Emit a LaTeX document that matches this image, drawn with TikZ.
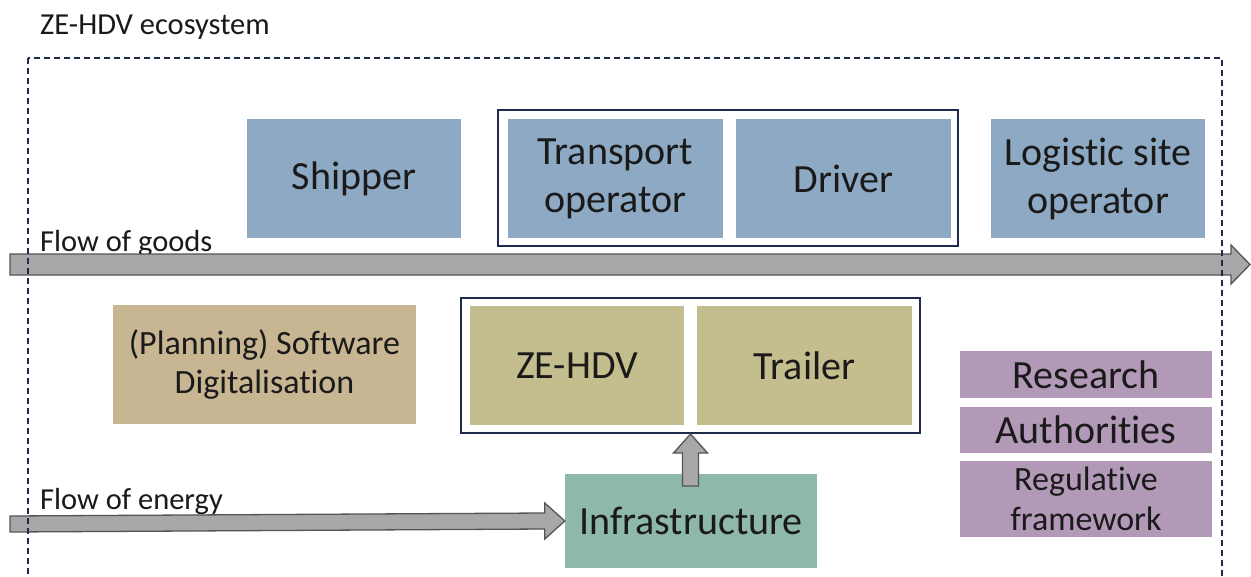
\documentclass[tikz,border=0pt]{standalone}
\usepackage{fontspec}
\setmainfont{Carlito}[Ligatures=NoCommon, Contextuals=NoAlternate]
\usetikzlibrary{calc}

\definecolor{actorblue}{HTML}{8EA9C4}
\definecolor{techolive}{HTML}{C4BE8E}
\definecolor{softtan}{HTML}{C8B693}
\definecolor{infrateal}{HTML}{8DB8AB}
\definecolor{policymauve}{HTML}{B399B8}
\definecolor{framenavy}{HTML}{1F2A4D}
\definecolor{arrowfill}{HTML}{A8A8A8}
\definecolor{arrowedge}{HTML}{555555}
\definecolor{inktext}{HTML}{1A1A1A}

\tikzset{
  block/.style={rectangle, inner sep=0pt, align=center, text=inktext, font=\fontsize{40}{48}\selectfont},
  actor/.style={block, fill=actorblue},
  tech/.style={block, fill=techolive},
  policy/.style={block, fill=policymauve, minimum width=252pt},
  smalltext/.style={font=\fontsize{34}{39.5}\selectfont},
  group/.style={draw=framenavy, line width=1.5pt, fill=white},
  flowarrow/.style={fill=arrowfill, draw=arrowedge, line width=1.3pt, line join=miter},
  caption/.style={anchor=west, inner sep=0pt, text=inktext, font=\fontsize{30.5}{36}\selectfont},
}

\begin{document}
\begin{tikzpicture}[x=1pt, y=-1pt]
\clip (0,0) rectangle (1251,576);
\fill[white] (0,0) rectangle (1251,576);

% title
\node[caption] (title) at (40,27) {ZE-HDV ecosystem};

% grouping frames
\draw[group] (498,110) rectangle (958,246);
\draw[group] (461,298) rectangle (920,433);
\coordinate (groupbottom) at (690.5,434);

% goods side actors
\node[actor, minimum width=214pt, minimum height=119pt] (shipper) at (354,178.5) {Shipper};
\node[actor, minimum width=215pt, minimum height=119pt] (operator) at (615.5,178.5) {Transport\\operator};
\node[actor, minimum width=215pt, minimum height=119pt] (driver) at (843.5,178.5) {Driver};
\node[actor, minimum width=214pt, minimum height=119pt] (logistic) at (1098,178.5) {Logistic site\\operator};

% flow of goods
\node[caption] (goodslabel) at (40,244) {Flow of goods};
\coordinate (goodsstart) at (10,264.5);
\coordinate (goodsend) at (1250,264.5);
\draw[flowarrow]
  ($(goodsstart)+(0,-10.5)$) -- ($(goodsend)+(-19,-10.5)$) -- ($(goodsend)+(-19,-19.5)$)
  -- (goodsend) -- ($(goodsend)+(-19,19.5)$) -- ($(goodsend)+(-19,10.5)$)
  -- ($(goodsstart)+(0,10.5)$) -- cycle;

% software and vehicles
\node[block, smalltext, fill=softtan, minimum width=303pt, minimum height=119pt] (software) at (264.5,364.5) {(Planning) Software\\Digitalisation};
\node[tech, minimum width=214pt, minimum height=119pt] (zehdv) at (577,365.5) {ZE-HDV};
\node[tech, minimum width=215pt, minimum height=119pt] (trailer) at (804.5,365.5) {Trailer};

% research, authorities, regulation
\node[policy, minimum height=47pt] (research) at (1086,374.5) {Research};
\node[policy, minimum height=46pt] (authorities) at (1086,430) {Authorit\kern0pt ies};
\node[policy, smalltext, minimum height=76pt] (regulation) at (1086,499) {Regulative\\framework};

% infrastructure
\node[block, fill=infrateal, minimum width=252pt, minimum height=94pt] (infra) at (691,521) {Infrastructure};

% flow of energy
\node[caption] (energylabel) at (40,502) {Flow of energy};
\coordinate (energystart) at (10,524);
\draw[flowarrow]
  ($(energystart)+(0,-8)$) -- ($(infra.west)+(-20,-8)$) -- ($(infra.west)+(-20,-18)$)
  -- (infra.west) -- ($(infra.west)+(-20,18)$) -- ($(infra.west)+(-20,8)$)
  -- ($(energystart)+(0,8)$) -- cycle;

% infrastructure feeds the vehicles
\coordinate (feedtail) at (690.5,486);
\draw[flowarrow]
  ($(feedtail)+(-8,0)$) -- ($(groupbottom)+(-8,19)$) -- ($(groupbottom)+(-17,19)$)
  -- (groupbottom) -- ($(groupbottom)+(17,19)$) -- ($(groupbottom)+(8,19)$)
  -- ($(feedtail)+(8,0)$) -- cycle;

% ecosystem boundary
\draw[framenavy, line width=1.1pt, dash pattern=on 6pt off 4pt] (28,58) rectangle (1222,620);
\end{tikzpicture}
\end{document}
